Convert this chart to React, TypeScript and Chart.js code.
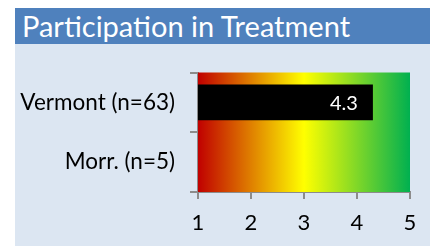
import React, { useEffect, useRef } from "react";
import { Chart, registerables } from "chart.js";

Chart.register(...registerables);

const title = "Participation in Treatment";
const categories = ["Vermont (n=63)", "Morr. (n=5)"];
const values: (number | null)[] = [4.3, null];
const xTicks = [1, 2, 3, 4, 5];
const gradientColors = ["#c00000", "#ffff00", "#00b050"];

const FONT = "Lato, 'Open Sans', sans-serif";

const bgGradient = {
  id: "bgGradient",
  beforeDatasetsDraw(chart: any) {
    const { ctx, chartArea } = chart;
    const g = ctx.createLinearGradient(chartArea.left, 0, chartArea.right, 0);
    gradientColors.forEach((c, i) => g.addColorStop(i / (gradientColors.length - 1), c));
    ctx.save();
    ctx.fillStyle = g;
    ctx.fillRect(chartArea.left, chartArea.top, chartArea.right - chartArea.left, chartArea.bottom - chartArea.top);
    ctx.restore();
  },
};

const barLabels = {
  id: "barLabels",
  afterDatasetsDraw(chart: any) {
    const { ctx } = chart;
    const meta = chart.getDatasetMeta(0);
    ctx.save();
    ctx.fillStyle = "#ffffff";
    ctx.font = `20px ${FONT}`;
    ctx.textAlign = "right";
    ctx.textBaseline = "middle";
    meta.data.forEach((el: any, i: number) => {
      const v = values[i];
      if (v == null) return;
      ctx.fillText(v.toFixed(1), el.x - 15, el.y + 1);
    });
    ctx.restore();
  },
};

export default function App() {
  const ref = useRef<HTMLCanvasElement>(null);
  useEffect(() => {
    if (!ref.current) return;
    const chart = new Chart(ref.current, {
      type: "bar",
      data: {
        labels: categories,
        datasets: [
          {
            data: values,
            backgroundColor: "#000000",
            borderWidth: 0,
            barPercentage: 0.6,
            categoryPercentage: 1,
          },
        ],
      },
      options: {
        indexAxis: "y",
        animation: false,
        responsive: false,
        maintainAspectRatio: false,
        layout: { padding: { top: 24, right: 27, left: 0, bottom: 0 } },
        plugins: { legend: { display: false }, tooltip: { enabled: false } },
        scales: {
          x: {
            min: 1,
            max: 5,
            afterBuildTicks: (s: any) => {
              s.ticks = xTicks.map((v) => ({ value: v }));
            },
            ticks: { color: "#000000", font: { family: FONT, size: 22 }, padding: 11 },
            grid: { drawOnChartArea: false, color: "#8c8c8c", tickLength: 7, lineWidth: 2 },
            border: { color: "#8c8c8c", width: 2 },
            afterFit: (s: any) => {
              s.height = 54;
            },
          },
          y: {
            ticks: { color: "#000000", font: { family: FONT, size: 22.5 }, padding: 15 },
            grid: { drawOnChartArea: false, color: "#8c8c8c", tickLength: 8, lineWidth: 2, offset: true },
            border: { color: "#8c8c8c", width: 2 },
            afterFit: (s: any) => {
              s.width = 183;
            },
          },
        },
      },
      plugins: [bgGradient, barLabels],
    });
    return () => chart.destroy();
  }, []);

  return (
    <div style={{ marginLeft: 7, width: 422, fontFamily: FONT }}>
      <div
        style={{
          background: "#4f81bd",
          color: "#ffffff",
          height: 36,
          lineHeight: "36px",
          fontSize: 29,
          paddingLeft: 7,
          whiteSpace: "nowrap",
          overflow: "hidden",
        }}
      >
        {title}
      </div>
      <div style={{ background: "#dce6f2", height: 202 }}>
        <canvas ref={ref} width={422} height={202} style={{ display: "block" }} />
      </div>
    </div>
  );
}
